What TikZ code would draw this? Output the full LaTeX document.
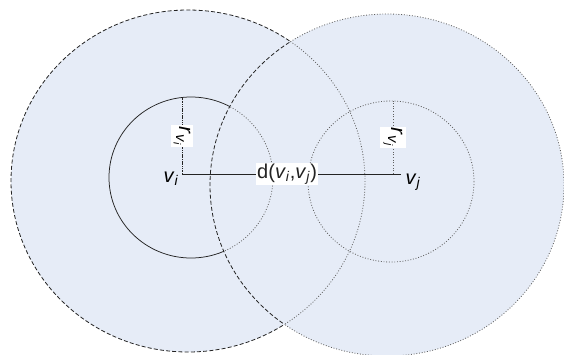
\documentclass[tikz,border=0pt]{standalone}
\usepackage{fontspec}
\setmainfont{Liberation Sans}
\definecolor{fillblue}{RGB}{230,236,247}
\definecolor{dk}{RGB}{35,35,35}
\definecolor{dt}{RGB}{95,95,95}
\newcommand\mysub[2]{\textit{#1}\textsubscript{\textit{#2}}}
\begin{document}
\begin{tikzpicture}[x=1pt,y=-1pt,
  dashline/.style={dk, line width=0.8pt, dash pattern=on 4pt off 2.2pt},
  dotline/.style={dt, line width=0.8pt, dash pattern=on 0.9pt off 1.8pt},
  solidline/.style={dk, line width=0.75pt},
  lbl/.style={font=\fontsize{20}{24}\selectfont, inner sep=0pt},
  dlbl/.style={fill=white, font=\fontsize{20}{23}\selectfont, inner sep=1.2pt},
  rlbl/.style={fill=white, rotate=-90, font=\fontsize{21}{24}\selectfont, inner xsep=1pt, inner ysep=3pt}]
\useasboundingbox (0,0) rectangle (564,354);
% fills
\fill[fillblue] (188,181) ellipse [x radius=177, y radius=171];
\fill[fillblue] (387,185) ellipse [x radius=177, y radius=171];
% parts inside right big circle: left circles dotted
\begin{scope}
  \clip (387,185) ellipse [x radius=177, y radius=171];
  \draw[dotline] (188,181) ellipse [x radius=177, y radius=171];
  \draw[dotline] (191,177.5) ellipse [x radius=82, y radius=80.5];
\end{scope}
% parts outside right big circle
\begin{scope}[even odd rule]
  \clip (-20,-20) rectangle (600,400) (387,185) ellipse [x radius=177, y radius=171];
  \draw[dashline] (188,181) ellipse [x radius=177, y radius=171];
  \draw[solidline] (191,177.5) ellipse [x radius=82, y radius=80.5];
\end{scope}
% right big circle inside left big circle: dashed
\begin{scope}
  \clip (188,181) ellipse [x radius=177, y radius=171];
  \draw[dashline] (387,185) ellipse [x radius=177, y radius=171];
\end{scope}
% right big circle outside left big circle: dotted
\begin{scope}[even odd rule]
  \clip (-20,-20) rectangle (600,400) (188,181) ellipse [x radius=177, y radius=171];
  \draw[dotline] (387,185) ellipse [x radius=177, y radius=171];
\end{scope}
% right small circle
\draw[dotline] (391,181.5) ellipse [x radius=83, y radius=80.5];
% coordinates
\coordinate (vi) at (182,174);
\coordinate (vj) at (401,174);
\coordinate (ti) at (182,98);
\coordinate (fj) at (393,174);
\coordinate (tj) at (393,101);
% radius lines
\draw[dk, line width=0.8pt, dash pattern=on 1.5pt off 0.8pt] (vi) -- node[rlbl, text=black] (ri) {\textit{r}\textsubscript{\textit{v}\textsubscript{\textit{i}}}} (ti);
\draw[dotline] (fj) -- node[rlbl, text=black] (rj) {\textit{r}\textsubscript{\textit{v}\textsubscript{\textit{j}}}} (tj);
% distance line
\draw[solidline, line width=0.9pt] (vi) -- node[dlbl, pos=0.48] (d) {d(\mysub{v}{i},\mysub{v}{j})} (vj);
% vertex labels
\node[lbl] (lvi) at (171,179) {\mysub{v}{i}};
\node[lbl] (lvj) at (413,182) {\mysub{v}{j}};
\end{tikzpicture}
\end{document}
